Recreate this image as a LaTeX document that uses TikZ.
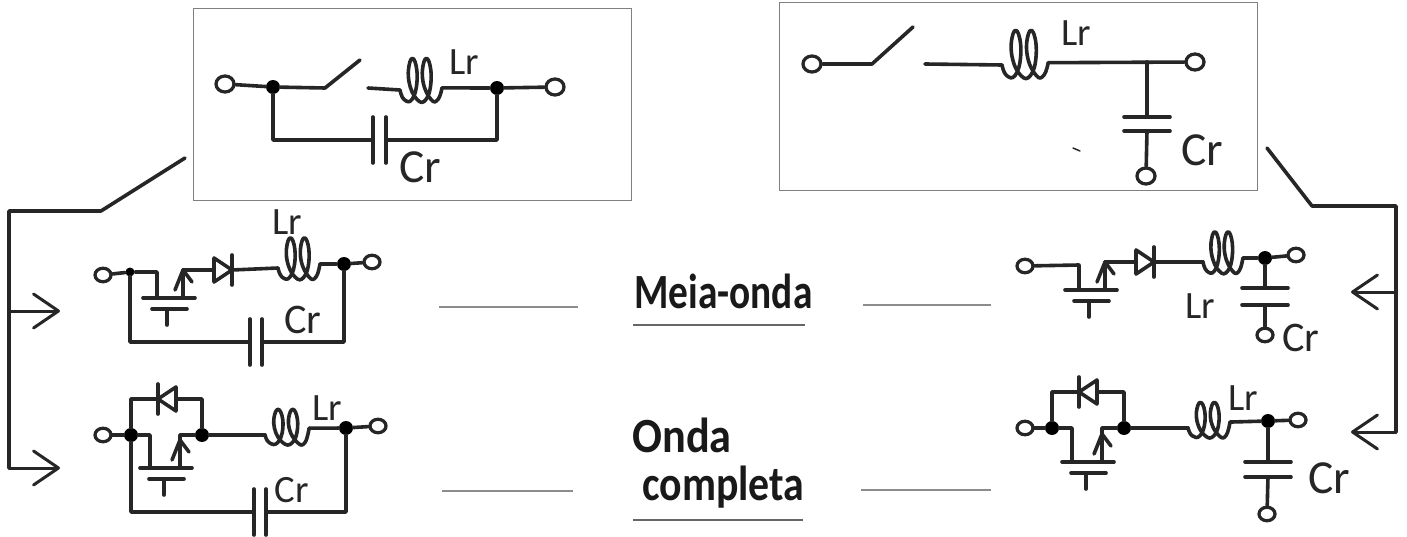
\documentclass[tikz,border=0pt]{standalone}
\usepackage{xcolor}
\usepackage{fontspec}
\setmainfont{Carlito}
\usetikzlibrary{arrows.meta,shapes.geometric}

\tikzset{
  wire/.style={line width=.072cm,black!85,line cap=round,line join=round},
  feed/.style={wire,line width=.06cm,-{Straight Barb[length=.5cm,width=.68cm,round]}},
  frame/.style={draw=black!50,line width=.02cm},
  rule/.style={draw=black!45,line width=.03cm},
  underrule/.style={draw=black!60,line width=.055cm},
  term/.style={ellipse,draw=black!85,line width=.065cm,fill=white,minimum width=.32cm,minimum height=.27cm,inner sep=0pt},
  bigterm/.style={term,minimum width=.36cm,minimum height=.32cm},
  dot/.style={circle,fill=black,minimum size=.28cm,inner sep=0pt},
  lbl/.style={black!85,font=\fontsize{22}{22}\selectfont,inner sep=0pt},
  lblmid/.style={lbl,font=\fontsize{24}{24}\selectfont},
  lblbig/.style={lbl,font=\fontsize{27}{27}\selectfont},
  title/.style={black!90,font=\bfseries\fontsize{28}{28}\selectfont,inner sep=0pt,anchor=west,transform shape},
  pics/coil/.style={code={
    \coordinate (-in) at (0,0);
    \coordinate (-out) at (42,-#1);
    \draw[wire] plot[smooth,tension=.8] coordinates {(0,0) (4,9) (12,9) (17,-8) (15,-27) (10,-27) (9,-8) (17,9) (26,9) (31,-8) (29,-27) (24,-27) (23,-8) (31,9) (38,9) (42,-#1)};
  }},
  pics/diode/.style={code={
    \coordinate (-a) at (0,0);
    \coordinate (-k) at (18,0);
    \draw[wire] (0,-12) -- (0,12) -- (18,0) -- cycle;
    \draw[wire] (18,-15) -- (18,15);
  }},
  pics/capacitor/.style={code={
    \coordinate (-a) at (0,0);
    \coordinate (-b) at (#1,0);
    \draw[wire] (0,-23) -- (0,23);
    \draw[wire] (#1,-23) -- (#1,23);
  }},
  pics/mosfet/.style={code={
    \coordinate (-s) at (14,0);
    \draw[wire] (-26,0) -- (26,0);
    \draw[wire] (-17,11) -- (18,11);
    \draw[wire] (-2,11) -- (-2,27);
    \draw[wire] (6,-8) -- (14,-28) -- (23,-16);
  }},
}

\begin{document}
\begin{tikzpicture}[x=.02cm,y=-.02cm]
\useasboundingbox (0,0) rectangle (1407,537);

% boxes
\draw[frame] (193,9) rectangle (631,200);
\draw[frame] (779,3) rectangle (1257,190);

% top left
\node[bigterm] (tla) at (225,84) {};
\node[dot] (tlb) at (273,87) {};
\node[dot] (tlc) at (497,88) {};
\node[bigterm] (tld) at (555,87) {};
\coordinate (tlsw) at (325,88);
\coordinate (tlswe) at (360,60);
\coordinate (tlfix) at (368,88);
\pic[yscale=1.05] (tll) at (400,90) {coil=2};
\pic (tlcap) at (373,140) {capacitor=13};
\draw[wire] (tla) -- (tlb) -- (tlsw) -- (tlswe);
\draw[wire] (tlfix) -- (tll-in);
\draw[wire] (tll-out) -- (tlc) -- (tld);
\draw[wire] (tlb) |- (tlcap-a);
\draw[wire] (tlcap-b) -| (tlc);
\node[lbl] (tlLr) at (464,62) {Lr};
\node[lblbig] (tlCr) at (420,167) {Cr};

% top right
\node[bigterm] (tra) at (812,64) {};
\coordinate (trsw) at (872,64);
\coordinate (trswe) at (913,27);
\coordinate (trfix) at (925,64);
\pic[xscale=1.1,yscale=1.15] (trl) at (1002,65) {coil=2};
\coordinate (trj) at (1147,62);
\node[bigterm] (trd) at (1195,62) {};
\pic[rotate=-90] (trcap) at (1147,117) {capacitor=14};
\node[bigterm] (tre) at (1146,176) {};
\draw[wire] (tra) -- (trsw) -- (trswe);
\draw[wire] (trfix) -- (trl-in);
\draw[wire] (trl-out) -- (trd);
\draw[wire] (trj) -- (trcap-a);
\draw[wire] (trcap-b) -- (tre);
\draw[wire,line width=.03cm] (1073,148) -- (1080,151);
\node[lbl] (trLr) at (1076,33) {Lr};
\node[lblbig] (trCr) at (1202,150) {Cr};

% left row, half wave
\node[term] (haa) at (103,275) {};
\node[dot,minimum size=.18cm] (hab) at (130,272) {};
\coordinate (had) at (157,272);
\pic (ham) at (169,298) {mosfet};
\coordinate (has) at (183,270);
\pic (hadi) at (214,270) {diode};
\pic (hal) at (278,268) {coil=4};
\node[dot] (hac) at (344,264) {};
\node[term] (hae) at (372,262) {};
\pic (hacap) at (250,342) {capacitor=12};
\draw[wire] (haa) -- (hab) -- (had) -- (157,298);
\draw[wire] (ham-s) -- (has) -- (hadi-a);
\draw[wire] (hadi-k) -- (hal-in);
\draw[wire] (hal-out) -- (hac) -- (hae);
\draw[wire] (hab) |- (hacap-a);
\draw[wire] (hacap-b) -| (hac);
\node[lbl] (haLr) at (287,222) {Lr};
\node[lblmid] (haCr) at (303,320) {Cr};

% left row, full wave
\node[term] (faa) at (103,435) {};
\node[dot] (fab) at (131,435) {};
\coordinate (fad) at (150,435);
\pic (fam) at (166,468) {mosfet};
\node[dot] (fas) at (202,435) {};
\coordinate (fast) at (180,435);
\pic[xscale=-1] (fadi) at (176,399) {diode};
\pic[xscale=1.05,yscale=.85] (fal) at (265,435) {coil=8};
\node[dot] (fac) at (346,428) {};
\node[term] (fae) at (378,426) {};
\pic (facap) at (254,512) {capacitor=12};
\draw[wire] (faa) -- (fab) -- (fad) -- (150,468);
\draw[wire] (fam-s) -- (fast) -- (fas);
\draw[wire] (fab) |- (fadi-k);
\draw[wire] (fadi-a) -| (fas);
\draw[wire] (fas) -- (fal-in);
\draw[wire] (fal-out) -- (fac) -- (fae);
\draw[wire] (fab) |- (facap-a);
\draw[wire] (facap-b) -| (fac);
\node[lbl] (faLr) at (327,408) {Lr};
\node[lbl] (faCr) at (292,490) {Cr};

% right row, half wave
\node[term] (hra) at (1025,266) {};
\coordinate (hrd) at (1079,265);
\pic (hrm) at (1091,290) {mosfet};
\coordinate (hrs) at (1105,262);
\pic (hrdi) at (1136,262) {diode};
\pic[xscale=.95] (hrl) at (1203,262) {coil=4};
\node[dot] (hrc) at (1265,258) {};
\node[term] (hre) at (1296,255) {};
\pic[rotate=-90] (hrcap) at (1265,288) {capacitor=17};
\node[term] (hrf) at (1265,335) {};
\draw[wire] (hra) -- (hrd) -- (1079,290);
\draw[wire] (hrm-s) -- (hrs) -- (hrdi-a);
\draw[wire] (hrdi-k) -- (hrl-in);
\draw[wire] (hrl-out) -- (hrc) -- (hre);
\draw[wire] (hrc) -- (hrcap-a);
\draw[wire] (hrcap-b) -- (hrf);
\node[lbl] (hrLr) at (1200,306) {Lr};
\node[lblmid] (hrCr) at (1301,338) {Cr};

% right row, full wave
\node[term] (fra) at (1025,428) {};
\node[dot] (frb) at (1052,428) {};
\coordinate (frd) at (1072,428);
\pic (frm) at (1088,462) {mosfet};
\node[dot] (frs) at (1124,428) {};
\coordinate (frst) at (1102,428);
\pic[xscale=-1] (frdi) at (1097,392) {diode};
\pic[yscale=.85] (frl) at (1188,428) {coil=7};
\node[dot] (frc) at (1268,421) {};
\node[term] (fre) at (1298,420) {};
\pic[rotate=-90] (frcap) at (1268,462) {capacitor=15};
\node[term] (frf) at (1267,514) {};
\draw[wire] (fra) -- (frb) -- (frd) -- (1072,462);
\draw[wire] (frm-s) -- (frst) -- (frs);
\draw[wire] (frb) |- (frdi-k);
\draw[wire] (frdi-a) -| (frs);
\draw[wire] (frs) -- (frl-in);
\draw[wire] (frl-out) -- (frc) -- (fre);
\draw[wire] (frc) -- (frcap-a);
\draw[wire] (frcap-b) -- (frf);
\node[lbl] (frLr) at (1243,398) {Lr};
\node[lblbig] (frCr) at (1329,478) {Cr};

% feed lines
\coordinate (la) at (185,158);
\coordinate (lb) at (101,211);
\coordinate (lc) at (9,211);
\coordinate (ld) at (9,311);
\coordinate (le) at (9,468);
\coordinate (lf) at (60,311);
\coordinate (lg) at (60,468);
\draw[wire] (la) -- (lb) -- (lc) -- (le);
\draw[feed] (ld) -- (lf);
\draw[feed] (le) -- (lg);
\coordinate (ra) at (1267,148);
\coordinate (rb) at (1312,206);
\coordinate (rc) at (1396,206);
\coordinate (rd) at (1396,292);
\coordinate (re) at (1396,432);
\coordinate (rf) at (1351,292);
\coordinate (rg) at (1351,432);
\draw[wire] (ra) -- (rb) -- (rc) -- (re);
\draw[feed] (rd) -- (rf);
\draw[feed] (re) -- (rg);

% middle
\draw[rule] (439,307) -- (578,307);
\draw[rule] (863,305) -- (991,305);
\draw[rule] (442,491) -- (573,491);
\draw[rule] (861,490) -- (991,490);
\draw[underrule] (633,325) -- (805,325);
\draw[underrule] (633,520) -- (803,520);
\node[title,xscale=.8] (half) at (634,291) {Meia-onda};
\node[title,xscale=.9] (full) at (632,435) {Onda};
\node[title,xscale=.85] (fullb) at (642,487) {completa};

\end{tikzpicture}
\end{document}
